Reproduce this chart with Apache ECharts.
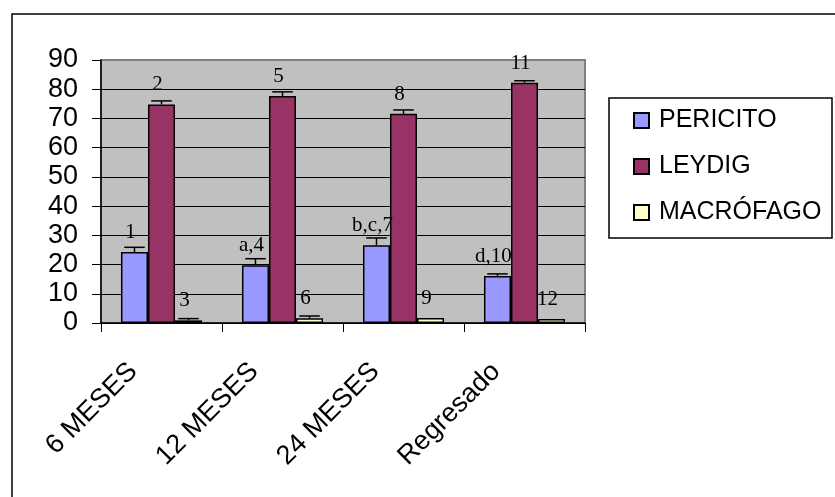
<!DOCTYPE html>
<html>
<head>
<meta charset="utf-8">
<script src="https://cdn.jsdelivr.net/npm/echarts@6/dist/echarts.min.js"></script>
<style>
  html, body { margin: 0; padding: 0; background: #fff; }
  #chart { width: 835px; height: 497px; }
</style>
</head>
<body>
<div id="chart"></div>
<script>
// Groups along the x axis
var categories = ['6 MESES', '12 MESES', '24 MESES', 'Regresado'];

// Series names
var seriesNames = ['PERICITO', 'LEYDIG', 'MACRÓFAGO'];

// Mean values per group
var pericito = [24.3, 19.8, 26.6, 16.1];
var leydig = [74.8, 77.7, 71.6, 82.2];
var macrofago = [0.9, 1.6, 1.7, 1.4];

// Error bar sizes (upper whisker)
var pericitoErr = [1.6, 2.2, 2.5, 0.7];
var leydigErr = [1.2, 1.4, 1.3, 0.7];
var macrofagoErr = [0.6, 0.8, 0, 0];

// Annotation text shown above each bar
var pericitoLabels = ['1', 'a,4', 'b,c,7', 'd,10'];
var leydigLabels = ['2', '5', '8', '11'];
var macrofagoLabels = ['3', '6', '9', '12'];

// Y axis ticks
var yTicks = [0, 10, 20, 30, 40, 50, 60, 70, 80, 90];

var colors = ['#9999FF', '#993366', '#FFFFCC'];
var values = [pericito, leydig, macrofago];
var errors = [pericitoErr, leydigErr, macrofagoErr];
var labels = [pericitoLabels, leydigLabels, macrofagoLabels];

var chart = echarts.init(document.getElementById('chart'));

var gapPct = 0.33;
var series = [];

values.forEach(function (vals, si) {
  series.push({
    name: seriesNames[si],
    type: 'bar',
    data: vals,
    barGap: '0%',
    barCategoryGap: (gapPct * 100) + '%',
    itemStyle: { color: colors[si], borderColor: '#000', borderWidth: 1.5 },
    label: {
      show: true,
      position: 'top',
      distance: 9,
      offset: [-4, 0],
      fontFamily: 'Liberation Serif',
      fontSize: 21,
      color: '#000',
      formatter: function (p) { return labels[si][p.dataIndex]; }
    },
    z: 2
  });
});

// Error bars drawn on top of the bars
values.forEach(function (vals, si) {
  var data = vals.map(function (v, i) { return [i, v, v + errors[si][i]]; });
  series.push({
    type: 'custom',
    silent: true,
    z: 3,
    data: data,
    encode: { x: 0, y: [1, 2] },
    renderItem: function (params, api) {
      var idx = api.value(0);
      var low = api.coord([idx, api.value(1)]);
      var high = api.coord([idx, api.value(2)]);
      var band = api.size([1, 0])[0];
      var barW = band * (1 - gapPct) / 3;
      var x = low[0] + (si - 1) * barW;
      if (api.value(2) <= api.value(1)) return null;
      var cap = barW * 0.38;
      var style = { stroke: '#000', lineWidth: 1.5 };
      return {
        type: 'group',
        children: [
          { type: 'line', shape: { x1: x, y1: low[1], x2: x, y2: high[1] }, style: style },
          { type: 'line', shape: { x1: x - cap, y1: high[1], x2: x + cap, y2: high[1] }, style: style }
        ]
      };
    }
  });
});

var splitColors = yTicks.map(function (t, i) { return i === yTicks.length - 1 ? '#808080' : '#000'; });

chart.setOption({
  animation: false,
  backgroundColor: '#fff',
  textStyle: { fontFamily: 'Liberation Sans' },
  grid: {
    left: 101, right: 250, top: 60, bottom: 174,
    show: true,
    backgroundColor: '#C0C0C0',
    borderColor: '#808080',
    borderWidth: 2
  },
  legend: {
    orient: 'vertical',
    left: 609,
    top: 99,
    padding: [9, 10, 8, 24],
    itemGap: 21,
    itemWidth: 15,
    itemHeight: 15,
    icon: 'rect',
    data: seriesNames,
    textStyle: { fontFamily: 'Liberation Sans', fontSize: 25, color: '#000', padding: [0, 0, 0, 5] }
  },
  graphic: [
    {
      type: 'rect',
      shape: { x: 12, y: 14, width: 900, height: 600 },
      style: { fill: 'none', stroke: '#000', lineWidth: 1.5 },
      silent: true
    },
    {
      type: 'rect',
      shape: { x: 609, y: 98, width: 223, height: 140 },
      style: { fill: '#fff', stroke: '#000', lineWidth: 1.5 },
      z: -1,
      silent: true
    }
  ],
  xAxis: {
    type: 'category',
    data: categories,
    axisLine: { lineStyle: { color: '#000', width: 1.5 } },
    axisTick: { show: true, length: 9, lineStyle: { color: '#000' } },
    axisLabel: {
      rotate: 45,
      margin: 16,
      padding: [0, 40, 0, 0],
      fontFamily: 'Liberation Sans',
      fontSize: 27,
      color: '#000'
    }
  },
  yAxis: {
    type: 'value',
    min: 0,
    max: 90,
    interval: 10,
    axisLine: { show: true, lineStyle: { color: '#000', width: 1.5 } },
    axisTick: { show: true, length: 9, lineStyle: { color: '#000' } },
    axisLabel: {
      margin: 23,
      fontFamily: 'Liberation Sans',
      fontSize: 27,
      color: '#000',
      formatter: function (v) { return yTicks.indexOf(v) >= 0 ? String(v) : ''; }
    },
    splitLine: { show: true, lineStyle: { color: splitColors, width: 1 } }
  },
  series: series
});
</script>
</body>
</html>
